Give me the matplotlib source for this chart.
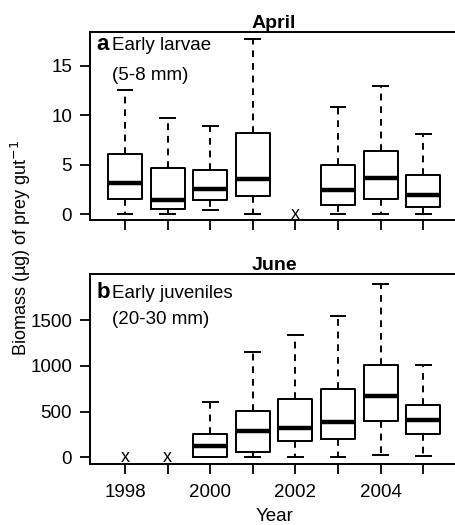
import matplotlib.pyplot as plt

plt.rcParams['font.family'] = ['Liberation Sans', 'DejaVu Sans']
plt.rcParams['font.size'] = 13

years = [1998, 1999, 2000, 2001, 2002, 2003, 2004, 2005]
year_labels = ['1998', '', '2000', '', '2002', '', '2004', '']

# April: early larvae (5-8 mm); None = no data (drawn as "x")
april_wlo = [0, 0, 0.44, 0, None, 0, 0, 0]
april_q1 = [1.55, 0.47, 1.39, 1.82, None, 0.91, 1.52, 0.74]
april_med = [3.14, 1.39, 2.53, 3.55, None, 2.40, 3.68, 1.93]
april_q3 = [6.08, 4.63, 4.46, 8.21, None, 5.0, 6.35, 3.92]
april_whi = [12.57, 9.73, 8.95, 17.7, None, 10.81, 12.94, 8.07]

# June: early juveniles (20-30 mm)
june_wlo = [None, None, 0, 0, 0, 0, 22, 18]
june_q1 = [None, None, 4, 62, 178, 200, 400, 255]
june_med = [None, None, 120, 291, 317, 390, 666, 411]
june_q3 = [None, None, 251, 506, 641, 743, 1005, 568]
june_whi = [None, None, 604, 1150, 1336, 1544, 1893, 1012]


def draw_panel(ax, wlo, q1, med, q3, whi, ylim, yticks):
    stats, pos, missing = [], [], []
    for i, yr in enumerate(years):
        if med[i] is None:
            missing.append(yr)
            continue
        stats.append(dict(whislo=wlo[i], q1=q1[i], med=med[i], q3=q3[i], whishi=whi[i]))
        pos.append(yr)
    ax.bxp(stats, positions=pos, widths=0.8, capwidths=0.35, showfliers=False,
           boxprops=dict(color='black', linewidth=1.4),
           medianprops=dict(color='black', linewidth=3.2),
           whiskerprops=dict(color='black', linewidth=1.4, linestyle=(0, (3.5, 3))),
           capprops=dict(color='black', linewidth=1.4))
    for yr in missing:
        ax.text(yr, 0, 'x', ha='center', va='center', fontsize=13)
    ax.set_xlim(1997.18, 2005.82)
    ax.set_ylim(*ylim)
    ax.set_yticks(yticks)
    ax.set_xticks(years)
    ax.tick_params(direction='out', length=7, width=1.3, colors='black', labelsize=13.5)
    ax.tick_params(axis='y', pad=6)
    for s in ax.spines.values():
        s.set_linewidth(1.4)


fig = plt.figure(figsize=(4.55, 5.25), dpi=100)
ax1 = fig.add_axes([0.198, 0.581, 0.809, 0.358])
ax2 = fig.add_axes([0.198, 0.116, 0.809, 0.362])

draw_panel(ax1, april_wlo, april_q1, april_med, april_q3, april_whi, (-0.6, 18.44), [0, 5, 10, 15])
ax1.set_xticklabels([''] * len(years))
ax1.set_title('April', fontweight='bold', fontsize=14, pad=3)
ax1.text(0.018, 0.935, 'a', transform=ax1.transAxes, fontweight='bold', fontsize=16, va='center')
ax1.text(0.06, 0.93, 'Early larvae', transform=ax1.transAxes, fontsize=13.5, va='center')
ax1.text(0.06, 0.77, '(5-8 mm)', transform=ax1.transAxes, fontsize=13.5, va='center')

draw_panel(ax2, june_wlo, june_q1, june_med, june_q3, june_whi, (-73, 2003), [0, 500, 1000, 1500])
ax2.set_xticklabels(year_labels)
ax2.tick_params(axis='x', pad=7)
ax2.set_title('June', fontweight='bold', fontsize=14, pad=3)
ax2.text(0.018, 0.905, 'b', transform=ax2.transAxes, fontweight='bold', fontsize=16, va='center')
ax2.text(0.06, 0.90, 'Early juveniles', transform=ax2.transAxes, fontsize=13.5, va='center')
ax2.text(0.06, 0.76, '(20-30 mm)', transform=ax2.transAxes, fontsize=13.5, va='center')
ax2.set_xlabel('Year', fontsize=13.5, labelpad=5.5)

fig.text(0.045, 0.5275, 'Biomass (µg) of prey gut$^{-1}$', rotation=90,
         ha='center', va='center', fontsize=13)

fig.savefig('out.png', dpi=100)
